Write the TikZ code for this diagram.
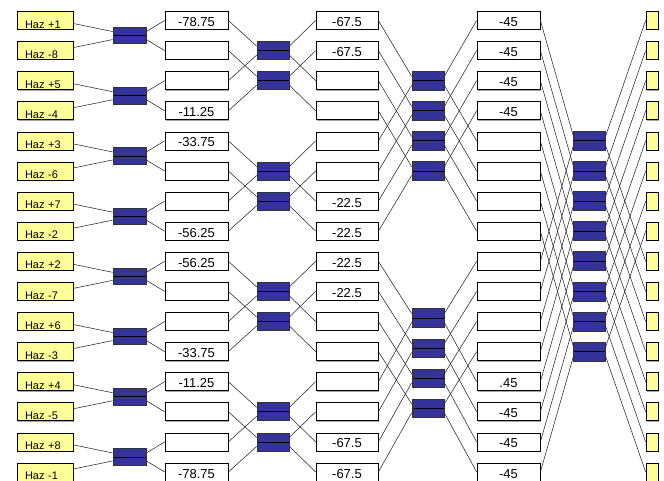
\documentclass[tikz,border=0pt]{standalone}
\usepackage{fontspec}
\setmainfont{Liberation Sans}
\usetikzlibrary{calc,shadows}
\definecolor{hazyellow}{HTML}{FFFF99}
\definecolor{hybblue}{HTML}{333399}
\begin{document}
\begin{tikzpicture}[x=1pt,y=-1pt,
  shad/.style={drop shadow={shadow xshift=0.9pt,shadow yshift=-0.9pt,fill=black!35,opacity=1}},
  ybox/.style={shad,draw=black,line width=0.7pt,fill=hazyellow,minimum width=56pt,minimum height=18pt,
    inner xsep=2pt,inner ysep=1pt,text width=40pt,align=left,text height=15.4pt,text depth=0pt,
    font=\fontsize{11}{13}\selectfont},
  rbox/.style={shad,draw=black,line width=0.7pt,fill=hazyellow,minimum width=12pt,minimum height=18pt,inner sep=0pt},
  wbox/.style={shad,draw=black,line width=0.7pt,fill=white,minimum width=63pt,minimum height=18pt,
    inner sep=1pt,text height=12pt,text depth=0pt,font=\fontsize{13}{15}\selectfont},
  hyb/.style={draw=black!80,line width=0.7pt,fill=hybblue,inner sep=0pt,
    path picture={\draw[black,line width=0.8pt] (path picture bounding box.west) -- (path picture bounding box.east);}},
  wire/.style={line width=0.55pt,black!85}]
\useasboundingbox (0,0) rectangle (664,481);
% left inputs
\foreach \t [count=\i from 0] in {Haz +1,Haz -8,Haz +5,Haz -4,Haz +3,Haz -6,Haz +7,Haz -2,Haz +2,Haz -7,Haz +6,Haz -3,Haz +4,Haz -5,Haz +8,Haz -1}
  {\node[ybox] (L\i) at (45,{20.5+30.1*\i}) {\t};}
% right outputs
\foreach \i in {0,...,15}
  {\node[rbox] (R\i) at (652,{20.5+30.1*\i}) {};}
% white columns
\foreach \t [count=\i from 0] in {-78.75,{},{},-11.25,-33.75,{},{},-56.25,-56.25,{},{},-33.75,-11.25,{},{},-78.75}
  {\node[wbox] (wa\i) at (196.5,{20.5+30.1*\i}) {\t};}
\foreach \t [count=\i from 0] in {-67.5,-67.5,{},{},{},{},-22.5,-22.5,-22.5,-22.5,{},{},{},{},-67.5,-67.5}
  {\node[wbox,minimum width=62pt] (wb\i) at (347,{20.5+30.1*\i}) {\t};}
\foreach \t [count=\i from 0] in {-45,-45,-45,-45,{},{},{},{},{},{},{},{},.45,-45,-45,-45}
  {\node[wbox] (wc\i) at (508.5,{20.5+30.1*\i}) {\t};}
% hybrids
\foreach \k in {0,...,7}
  {\node[hyb,minimum width=33pt,minimum height=16.5pt] (ha\k) at (129.5,{35.55+60.2*\k}) {};}
\foreach \r in {1,2,5,6,9,10,13,14}
  {\node[hyb,minimum width=32pt,minimum height=18pt] (hb\r) at (273,{20.5+30.1*\r}) {};}
\foreach \r in {2,3,4,5}
  {\node[hyb,minimum width=32pt,minimum height=18.5pt] (hc\r) at (428,{20.5+30.1*\r}) {};}
\foreach \r in {10,11,12,13}
  {\node[hyb,minimum width=32pt,minimum height=18.5pt] (hc\r) at (428,{17+30.1*\r}) {};}
\foreach \r in {4,...,11}
  {\node[hyb,minimum width=31.5pt,minimum height=19pt] (hd\r) at (589.5,{20.5+30.1*\r}) {};}
% stage 1
\foreach \k in {0,...,7}{
  \pgfmathtruncatemacro\a{2*\k}
  \pgfmathtruncatemacro\b{2*\k+1}
  \draw[wire] ([yshift=-3pt]L\a.east) -- ([yshift=4pt]ha\k.west);
  \draw[wire] ([yshift=3pt]L\b.east) -- ([yshift=-4pt]ha\k.west);
  \draw[wire] ([yshift=4pt]ha\k.east) -- (wa\a.west);
  \draw[wire] ([yshift=-4pt]ha\k.east) -- (wa\b.west);
}
% stage 2
\foreach \g in {0,...,3}{
  \pgfmathtruncatemacro\r{4*\g}
  \pgfmathtruncatemacro\s{4*\g+1}
  \pgfmathtruncatemacro\t{4*\g+2}
  \pgfmathtruncatemacro\u{4*\g+3}
  \draw[wire] (wa\r.east) -- ([yshift=4.5pt]hb\s.west);
  \draw[wire] (wa\t.east) -- ([yshift=-4.5pt]hb\s.west);
  \draw[wire] (wa\s.east) -- ([yshift=4.5pt]hb\t.west);
  \draw[wire] (wa\u.east) -- ([yshift=-4.5pt]hb\t.west);
  \draw[wire] ([yshift=4.5pt]hb\s.east) -- (wb\r.west);
  \draw[wire] ([yshift=-4.5pt]hb\s.east) -- (wb\t.west);
  \draw[wire] ([yshift=4.5pt]hb\t.east) -- (wb\s.west);
  \draw[wire] ([yshift=-4.5pt]hb\t.east) -- (wb\u.west);
}
% stage 3
\foreach \h in {0,1}{
  \foreach \i in {0,...,3}{
    \pgfmathtruncatemacro\a{8*\h+\i}
    \pgfmathtruncatemacro\b{8*\h+4+\i}
    \pgfmathtruncatemacro\c{8*\h+2+\i}
    \draw[wire] (wb\a.east) -- ([yshift=4.5pt]hc\c.west);
    \draw[wire] (wb\b.east) -- ([yshift=-4.5pt]hc\c.west);
    \draw[wire] ([yshift=4.5pt]hc\c.east) -- (wc\a.west);
    \draw[wire] ([yshift=-4.5pt]hc\c.east) -- (wc\b.west);
  }
}
% stage 4
\foreach \i in {0,...,7}{
  \pgfmathtruncatemacro\b{\i+8}
  \pgfmathtruncatemacro\c{\i+4}
  \draw[wire] (wc\i.east) -- ([yshift=4.75pt]hd\c.west);
  \draw[wire] (wc\b.east) -- ([yshift=-4.75pt]hd\c.west);
  \draw[wire] ([yshift=4.75pt]hd\c.east) -- (R\i.west);
  \draw[wire] ([yshift=-4.75pt]hd\c.east) -- (R\b.west);
}
\end{tikzpicture}
\end{document}
